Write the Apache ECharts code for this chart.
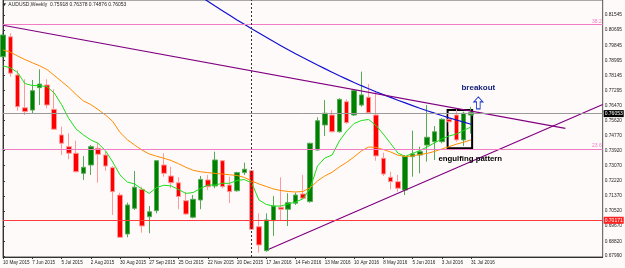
<!DOCTYPE html>
<html>
<head>
<meta charset="utf-8">
<script src="https://cdn.jsdelivr.net/npm/echarts@6/dist/echarts.min.js"></script>
<style>
html, body { margin: 0; padding: 0; background: #fffafa; }
#chart { width: 625px; height: 268px; }
</style>
</head>
<body>
<div id="chart"></div>
<script>
// AUDUSD weekly, 10 May 2015 .. 31 Jul 2016, plus empty weeks on the right (chart shift)
const weekCount = 83
const tickLabels = ['10 May 2015', '7 Jun 2015', '5 Jul 2015', '2 Aug 2015', '30 Aug 2015', '27 Sep 2015',
  '25 Oct 2015', '22 Nov 2015', '20 Dec 2015', '17 Jan 2016', '14 Feb 2016', '13 Mar 2016',
  '10 Apr 2016', '8 May 2016', '5 Jun 2016', '3 Jul 2016', '31 Jul 2016']
const yTicks = [0.81545, 0.80695, 0.79845, 0.78995, 0.78145, 0.77295, 0.76470, 0.75620, 0.74770,
  0.73920, 0.73070, 0.72220, 0.71370, 0.70520, 0.69670, 0.68820, 0.67990]

// [open, close, low, high]
const candles = [
  [0.7920, 0.8042, 0.7913, 0.8053], [0.8032, 0.7827, 0.7808, 0.8052], [0.7817, 0.7639, 0.7616, 0.7845],
  [0.7633, 0.7611, 0.7592, 0.7793], [0.7620, 0.7729, 0.7602, 0.7789], [0.7746, 0.7766, 0.7648, 0.7849],
  [0.7761, 0.7648, 0.7630, 0.7793], [0.7624, 0.7512, 0.7508, 0.7737], [0.7480, 0.7433, 0.7367, 0.7527],
  [0.7414, 0.7377, 0.7343, 0.7489], [0.7377, 0.7273, 0.7269, 0.7448], [0.7264, 0.7298, 0.7227, 0.7362],
  [0.7311, 0.7414, 0.7255, 0.7423], [0.7405, 0.7371, 0.7211, 0.7433], [0.7367, 0.7305, 0.7279, 0.7386],
  [0.7296, 0.7161, 0.7030, 0.7305], [0.7142, 0.6904, 0.6900, 0.7155], [0.6923, 0.7086, 0.6904, 0.7099],
  [0.7067, 0.7186, 0.7058, 0.7277], [0.7174, 0.6968, 0.6930, 0.7189], [0.7020, 0.7048, 0.6927, 0.7080],
  [0.7054, 0.7335, 0.7039, 0.7339], [0.7311, 0.7264, 0.7245, 0.7377], [0.7249, 0.7211, 0.7180, 0.7301],
  [0.7211, 0.7133, 0.7062, 0.7242], [0.7110, 0.7035, 0.7030, 0.7161], [0.7017, 0.7118, 0.7011, 0.7142],
  [0.7114, 0.7230, 0.7062, 0.7249], [0.7227, 0.7189, 0.7170, 0.7255], [0.7193, 0.7339, 0.7180, 0.7386],
  [0.7335, 0.7189, 0.7180, 0.7339], [0.7198, 0.7161, 0.7096, 0.7245], [0.7166, 0.7268, 0.7161, 0.7273],
  [0.7268, 0.7287, 0.7255, 0.7324], [0.7279, 0.6949, 0.6945, 0.7283], [0.6964, 0.6861, 0.6818, 0.7039],
  [0.6829, 0.7002, 0.6823, 0.7039], [0.6998, 0.7080, 0.6912, 0.7137], [0.7073, 0.7062, 0.6998, 0.7242],
  [0.7062, 0.7099, 0.6968, 0.7152], [0.7096, 0.7142, 0.7086, 0.7155], [0.7148, 0.7124, 0.7118, 0.7255],
  [0.7105, 0.7433, 0.7099, 0.7436], [0.7395, 0.7560, 0.7391, 0.7579], [0.7536, 0.7602, 0.7474, 0.7676],
  [0.7592, 0.7498, 0.7493, 0.7620], [0.7498, 0.7680, 0.7493, 0.7686], [0.7667, 0.7549, 0.7542, 0.7680],
  [0.7592, 0.7729, 0.7587, 0.7737], [0.7648, 0.7705, 0.7639, 0.7836], [0.7692, 0.7605, 0.7602, 0.7766],
  [0.7592, 0.7362, 0.7335, 0.7723], [0.7349, 0.7260, 0.7249, 0.7380], [0.7242, 0.7217, 0.7174, 0.7273],
  [0.7217, 0.7180, 0.7161, 0.7255], [0.7170, 0.7358, 0.7142, 0.7367], [0.7358, 0.7373, 0.7245, 0.7504],
  [0.7367, 0.7386, 0.7264, 0.7414], [0.7423, 0.7467, 0.7330, 0.7648], [0.7442, 0.7498, 0.7339, 0.7530],
  [0.7442, 0.7568, 0.7433, 0.7574], [0.7568, 0.7554, 0.7498, 0.7598], [0.7592, 0.7452, 0.7442, 0.7624],
  [0.7452, 0.7602, 0.7418, 0.7611], [0.75918, 0.76053, 0.74876, 0.76378]
]

const greenMA = [0.7868, 0.7858, 0.7831, 0.7769, 0.7758, 0.7757, 0.7752, 0.7716, 0.7651, 0.7572,
  0.7513, 0.7480, 0.7452, 0.7433, 0.7392, 0.7328, 0.7255, 0.7215, 0.7204, 0.7176,
  0.7151, 0.7184, 0.7197, 0.7193, 0.7173, 0.7151, 0.7156, 0.7179, 0.7198, 0.7198,
  0.7208, 0.7208, 0.7224, 0.7229, 0.7210, 0.7114, 0.7089, 0.7080, 0.7080, 0.7092,
  0.7103, 0.7120, 0.7179, 0.7305, 0.7350, 0.7367, 0.7446, 0.7502, 0.7544, 0.7561,
  0.7567, 0.7533, 0.7485, 0.7432, 0.7378, 0.7359, 0.7376, 0.7392, 0.7412, 0.7435,
  0.7457, 0.7474, 0.7485, 0.7505, 0.7525]

const orangeMA = [0.7958, 0.7946, 0.7924, 0.7904, 0.7886, 0.7869, 0.7848, 0.7815, 0.7781, 0.7747,
  0.7707, 0.7671, 0.7651, 0.7623, 0.7592, 0.7556, 0.7494, 0.7453, 0.7423, 0.7395,
  0.7373, 0.7360, 0.7349, 0.7336, 0.7318, 0.7298, 0.7281, 0.7273, 0.7268, 0.7264,
  0.7260, 0.7256, 0.7252, 0.7241, 0.7221, 0.7204, 0.7190, 0.7176, 0.7167, 0.7162,
  0.7159, 0.7162, 0.7182, 0.7221, 0.7249, 0.7270, 0.7300, 0.7326, 0.7356, 0.7390,
  0.7412, 0.7410, 0.7398, 0.7384, 0.7366, 0.7359, 0.7362, 0.7370, 0.7376, 0.7387,
  0.7401, 0.7414, 0.7428, 0.7439, 0.7452]

const blueMA = [null, null, null, null, null, null, null, null, null, null,
  null, null, null, null, null, null, null, null, null, null,
  null, null, null, null, null, null, null, 0.8260, 0.8232, 0.8205,
  0.8179, 0.8153, 0.8127, 0.8102, 0.8077, 0.8053, 0.8029, 0.8005, 0.7982, 0.7959,
  0.7937, 0.7915, 0.7894, 0.7873, 0.7853, 0.7833, 0.7813, 0.7794, 0.7775, 0.7757,
  0.7740, 0.7723, 0.7707, 0.7691, 0.7675, 0.7660, 0.7645, 0.7630, 0.7616, 0.7603,
  0.7589, 0.7576, 0.7564, 0.7552, 0.7540]

// trendlines: [week index, price]
const upperTrend = [[0, 0.8097], [76.9, 0.7517]]
const lowerTrend = [[36.35, 0.6837], [82, 0.7651]]

const bidPrice = 0.76053
const supportLevel = 0.70171
const fibLevels = [{ name: '38.2', value: 0.8132 }, { name: '23.6', value: 0.7446 }]
const yearStart = 34

const months = ['Jan', 'Feb', 'Mar', 'Apr', 'May', 'Jun', 'Jul', 'Aug', 'Sep', 'Oct', 'Nov', 'Dec']
const weeks = []
for (let i = 0; i < weekCount; i++) {
  const d = new Date(Date.UTC(2015, 4, 10 + 7 * i))
  weeks.push(d.getUTCDate() + ' ' + months[d.getUTCMonth()] + ' ' + d.getUTCFullYear())
}

const font = 'Liberation Sans'
const chart = echarts.init(document.getElementById('chart'))

const option = {
  backgroundColor: '#fffafa',
  animation: false,
  title: {
    text: '\u25BC AUDUSD,Weekly  0.75918 0.76378 0.74876 0.76053',
    left: 2,
    top: 2,
    padding: 0,
    textStyle: { fontSize: 5, fontWeight: 'normal', color: '#222', fontFamily: font }
  },
  grid: {
    left: 1, right: 21, top: 0, bottom: 11,
    show: true, borderColor: '#555', borderWidth: 1, backgroundColor: 'transparent'
  },
  xAxis: [
    {
      type: 'category',
      data: weeks,
      boundaryGap: false,
      axisLine: { lineStyle: { color: '#333', width: 1 } },
      axisTick: {
        length: 2,
        interval: (i) => i % 4 === 0 && i / 4 < tickLabels.length,
        lineStyle: { color: '#333' }
      },
      axisLabel: {
        interval: (i) => i % 4 === 0 && i / 4 < tickLabels.length,
        formatter: (v, i) => tickLabels[i / 4] || '',
        fontSize: 4.6,
        color: '#222',
        fontFamily: font,
        align: 'left',
        margin: 3
      },
      splitLine: { show: false }
    },
    {
      // helper axis with the same extent, for fractional positions of drawn objects
      type: 'value', min: 0, max: weekCount - 1, show: false
    }
  ],
  yAxis: {
    type: 'value',
    position: 'right',
    min: 0.67934,
    max: 0.82389,
    scale: true,
    axisLine: { show: true, lineStyle: { color: '#333', width: 1 } },
    axisTick: { show: true, customValues: yTicks, length: 2, lineStyle: { color: '#333' } },
    axisLabel: {
      customValues: yTicks,
      formatter: (v) => v.toFixed(5),
      fontSize: 4.8,
      color: '#222',
      fontFamily: font,
      margin: 2
    },
    splitLine: { show: false }
  },
  series: [
    {
      name: 'AUDUSD',
      type: 'candlestick',
      data: candles,
      barWidth: 5,
      itemStyle: {
        color: '#008000',
        color0: '#ff0000',
        borderColor: '#55aa55',
        borderColor0: '#ff9a9a',
        borderWidth: 1
      },
      markLine: {
        silent: true,
        symbol: 'none',
        data: [
          {
            yAxis: bidPrice,
            lineStyle: { color: '#9a9a9a', width: 1, type: 'solid' },
            label: {
              position: 'end', formatter: bidPrice.toFixed(5), distance: 1,
              backgroundColor: '#000', color: '#fff', fontSize: 5, padding: [1, 1], fontFamily: font
            }
          },
          {
            yAxis: supportLevel,
            lineStyle: { color: '#ff3b3b', width: 1, type: 'solid' },
            label: {
              position: 'end', formatter: supportLevel.toFixed(5), distance: 1,
              backgroundColor: '#ff2020', color: '#fff', fontSize: 5, padding: [1, 1], fontFamily: font
            }
          },
          ...fibLevels.map((f) => ({
            yAxis: f.value,
            lineStyle: { color: '#f07cc4', width: 1, type: 'solid' },
            label: {
              position: 'insideEndTop', formatter: f.name, distance: 1,
              color: '#f07cc4', fontSize: 5, fontFamily: font
            }
          })),
          {
            xAxis: yearStart,
            lineStyle: { color: '#333', width: 1, type: [2, 2] },
            label: { show: false }
          }
        ]
      }
    },
    {
      name: 'fast MA',
      type: 'line',
      data: greenMA,
      symbol: 'none',
      lineStyle: { color: '#19e019', width: 1 }
    },
    {
      name: 'mid MA',
      type: 'line',
      data: orangeMA,
      symbol: 'none',
      lineStyle: { color: '#ff8c00', width: 1 }
    },
    {
      name: 'slow MA',
      type: 'line',
      data: blueMA,
      symbol: 'none',
      lineStyle: { color: '#1010d0', width: 1.2 }
    },
    {
      name: 'resistance',
      type: 'line',
      xAxisIndex: 1,
      data: upperTrend,
      symbol: 'none',
      lineStyle: { color: '#800080', width: 1.2 }
    },
    {
      name: 'support',
      type: 'line',
      xAxisIndex: 1,
      data: lowerTrend,
      symbol: 'none',
      lineStyle: { color: '#800080', width: 1.2 },
      markArea: {
        silent: true,
        itemStyle: { color: 'rgba(0,0,0,0)', borderColor: '#000', borderWidth: 2 },
        data: [[{ coord: [60.8, 0.7620] }, { coord: [64.15, 0.7405] }]]
      },
      markPoint: {
        silent: true,
        data: [
          {
            coord: [65.0, 0.7660],
            symbol: 'path://M5,0 L10,5 L7,5 L7,12 L3,12 L3,5 L0,5 Z',
            symbolSize: [9, 12],
            itemStyle: { color: 'rgba(0,0,0,0)', borderColor: '#1a3ad0', borderWidth: 1 },
            label: { show: false }
          },
          {
            coord: [65.0, 0.7747],
            symbol: 'circle',
            symbolSize: 1,
            itemStyle: { color: 'rgba(0,0,0,0)' },
            label: {
              show: true, position: 'inside', formatter: 'breakout',
              color: '#14237a', fontWeight: 'bold', fontSize: 8, fontFamily: font
            }
          },
          {
            coord: [63.9, 0.7345],
            symbol: 'circle',
            symbolSize: 1,
            itemStyle: { color: 'rgba(0,0,0,0)' },
            label: {
              show: true, position: 'inside', formatter: 'engulfing pattern',
              color: '#000', fontWeight: 'bold', fontSize: 7.8, fontFamily: font
            }
          }
        ]
      }
    }
  ]
}

chart.setOption(option)
</script>
</body>
</html>
